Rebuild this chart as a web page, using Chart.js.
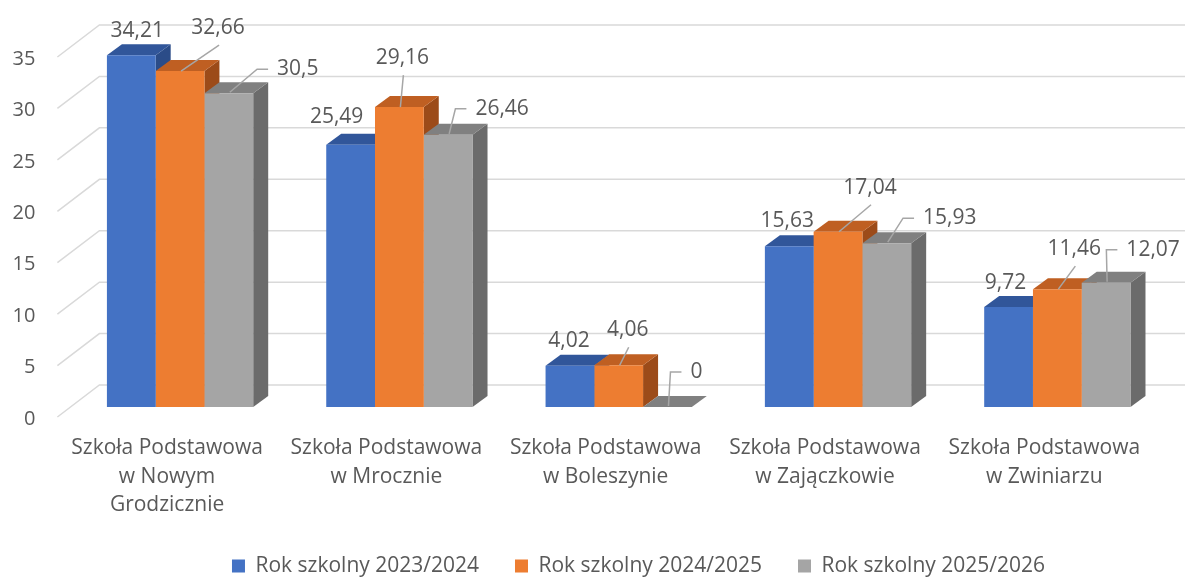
<!DOCTYPE html>
<html>
<head>
<meta charset="utf-8">
<script src="https://cdn.jsdelivr.net/npm/chart.js@4.4.1/dist/chart.umd.min.js"></script>
<style>
    html, body { margin: 0; padding: 0; background: #fff; }
    #wrap { width: 1185px; height: 577px; }
</style>
</head>
<body>
<div id="wrap"><canvas id="szkolyChart"></canvas></div>
<script>
// Dane wykresu
const categories = [
    ['Szkoła Podstawowa', 'w Nowym', 'Grodzicznie'],
    ['Szkoła Podstawowa', 'w Mrocznie'],
    ['Szkoła Podstawowa', 'w Boleszynie'],
    ['Szkoła Podstawowa', 'w Zajączkowie'],
    ['Szkoła Podstawowa', 'w Zwiniarzu']
];
const seriesNames = ['Rok szkolny 2023/2024', 'Rok szkolny 2024/2025', 'Rok szkolny 2025/2026'];
const rok2023 = [34.21, 25.49, 4.02, 15.63, 9.72];
const rok2024 = [32.66, 29.16, 4.06, 17.04, 11.46];
const rok2025 = [30.5, 26.46, 0, 15.93, 12.07];
const yTicks = [0, 5, 10, 15, 20, 25, 30, 35];

// Kolory: przód, góra, bok
const colors = [
    { front: '#4472C4', top: '#31569A', side: '#2B4C88' },
    { front: '#ED7D31', top: '#BF5F22', side: '#9C4B19' },
    { front: '#A5A5A5', top: '#808080', side: '#6B6B6B' }
];

// Przesunięcia etykiet (dx, dy) względem środka górnej krawędzi słupka
const labelShift = [
    [[6, -24], [-14, -28], [-1, -25], [-2, -25], [-3, -24]],
    [[38, -43], [3, -49], [9, -35], [32, -44], [17, -40]],
    [[69, -24], [54, -26], [29, -35], [63, -25], [47, -33]]
];
const leaderType = [null, 'up', 'side'];

const textColor = '#595959';
const fontFamily = "'Open Sans', 'DejaVu Sans', sans-serif";
const depth = { dx: 15, dy: -11 };       // głębokość słupka
const wall = { dx: 29, dy: -22 };        // tylna ściana względem płaszczyzny słupków
const front = { dx: -13, dy: 10 };       // przednia krawędź podłogi

// Ściana z liniami siatki i boki/góry słupków (rysowane przed przodami)
const box3d = {
    id: 'box3d',
    afterLayout(chart) {
        // legenda w Excelu jest przesunięta w prawo
        chart.legend.left += 55;
        chart.legend.right += 55;
    },
    beforeDatasetsDraw(chart) {
        const ctx = chart.ctx;
        const area = chart.chartArea;
        const y = chart.scales.y;
        ctx.save();
        ctx.strokeStyle = '#D9D9D9';
        ctx.lineWidth = 1.5;
        yTicks.forEach(v => {
            const py = y.getPixelForValue(v);
            ctx.beginPath();
            ctx.moveTo(area.left + front.dx, py + front.dy);
            ctx.lineTo(area.left + wall.dx, py + wall.dy);
            ctx.lineTo(chart.width, py + wall.dy);
            ctx.stroke();
        });

        const base = y.getPixelForValue(0);
        chart.data.datasets.forEach((ds, di) => {
            const meta = chart.getDatasetMeta(di);
            meta.data.forEach(bar => {
                const x0 = bar.x - bar.width / 2;
                const x1 = bar.x + bar.width / 2;
                const top = bar.y;
                // bok
                ctx.fillStyle = colors[di].side;
                ctx.beginPath();
                ctx.moveTo(x1, top);
                ctx.lineTo(x1 + depth.dx, top + depth.dy);
                ctx.lineTo(x1 + depth.dx, base + depth.dy);
                ctx.lineTo(x1, base);
                ctx.closePath();
                ctx.fill();
                // góra
                ctx.fillStyle = colors[di].top;
                ctx.beginPath();
                ctx.moveTo(x0, top);
                ctx.lineTo(x0 + depth.dx, top + depth.dy);
                ctx.lineTo(x1 + depth.dx, top + depth.dy);
                ctx.lineTo(x1, top);
                ctx.closePath();
                ctx.fill();
            });
        });
        ctx.restore();
    },
    afterDatasetsDraw(chart) {
        const ctx = chart.ctx;
        ctx.save();
        ctx.font = '21px ' + fontFamily;
        ctx.fillStyle = textColor;
        ctx.textAlign = 'center';
        ctx.textBaseline = 'middle';
        chart.data.datasets.forEach((ds, di) => {
            const meta = chart.getDatasetMeta(di);
            meta.data.forEach((bar, i) => {
                const text = String(ds.data[i]).replace('.', ',');
                const lx = bar.x + labelShift[di][i][0];
                const ly = bar.y + labelShift[di][i][1];
                const w = ctx.measureText(text).width;
                ctx.strokeStyle = '#A6A6A6';
                ctx.lineWidth = 1.5;
                if (leaderType[di] === 'up') {
                    ctx.beginPath();
                    ctx.moveTo(bar.x + 1, bar.y);
                    ctx.lineTo(lx + 1, ly + 17);
                    ctx.stroke();
                } else if (leaderType[di] === 'side') {
                    const left = lx - w / 2;
                    ctx.beginPath();
                    ctx.moveTo(bar.x + 1, bar.y - 1);
                    ctx.lineTo(left - 20, ly);
                    ctx.lineTo(left - 9, ly);
                    ctx.stroke();
                }
                ctx.fillText(text, lx, ly);
            });
        });
        ctx.restore();
    }
};

const ctx = document.getElementById('szkolyChart').getContext('2d');

const data = {
    labels: categories,
    datasets: [rok2023, rok2024, rok2025].map((values, i) => ({
        label: seriesNames[i],
        data: values,
        backgroundColor: colors[i].front,
        borderWidth: 0,
        barPercentage: 1,
        categoryPercentage: 0.667
    }))
};

const config = {
    type: 'bar',
    data: data,
    options: {
        responsive: false,
        animation: false,
        layout: { padding: { top: 44, right: 18, left: 0, bottom: -9.5 } },
        scales: {
            x: {
                grid: { display: false, drawTicks: false },
                border: { display: false },
                ticks: {
                    color: textColor,
                    font: { family: fontFamily, size: 21, lineHeight: 1.36 },
                    padding: 27,
                    labelOffset: -13,
                    maxRotation: 0,
                    autoSkip: false
                },
                afterFit(scale) { scale.height = 112.5; }
            },
            y: {
                min: 0,
                max: 35,
                grid: { display: false, drawTicks: false },
                border: { display: false },
                ticks: {
                    stepSize: 5,
                    color: textColor,
                    font: { family: fontFamily, size: 20 },
                    padding: 35,
                    labelOffset: 12
                },
                afterFit(scale) { scale.width = 70.4; }
            }
        },
        plugins: {
            legend: {
                position: 'bottom',
                labels: {
                    color: textColor,
                    font: { family: fontFamily, size: 21 },
                    boxWidth: 13,
                    boxHeight: 13,
                    padding: 36
                }
            },
            tooltip: { enabled: false }
        }
    },
    plugins: [box3d]
};

const canvas = document.getElementById('szkolyChart');
canvas.width = 1185;
canvas.height = 577;
new Chart(ctx, config);
</script>
</body>
</html>
